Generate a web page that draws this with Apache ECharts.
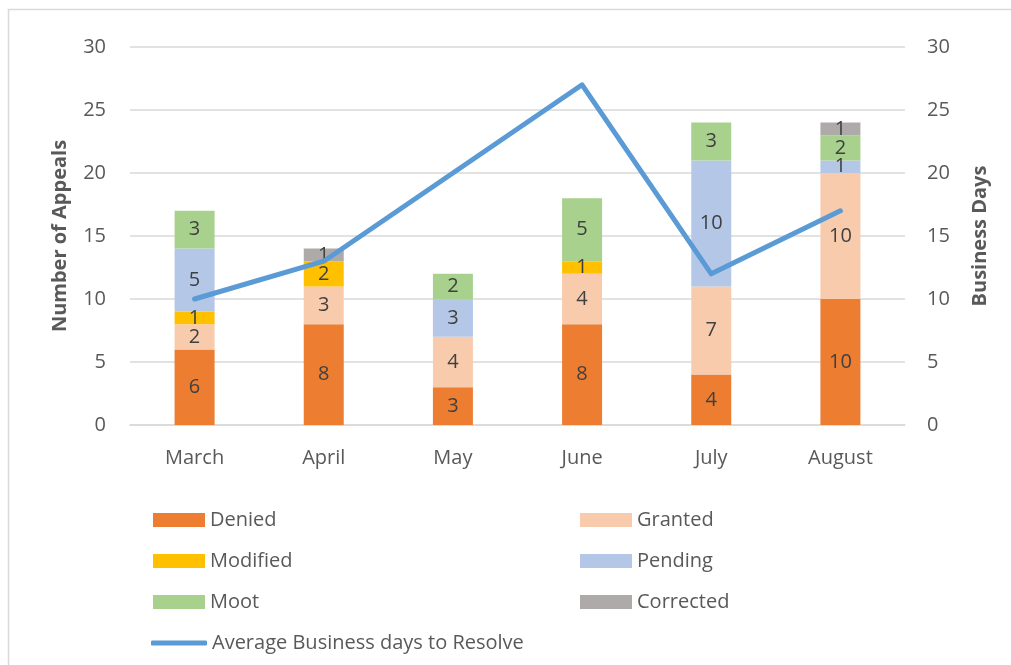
<!DOCTYPE html>
<html>
<head>
<meta charset="utf-8">
<script src="https://cdn.jsdelivr.net/npm/echarts@6/dist/echarts.min.js"></script>
<style>
html,body{margin:0;padding:0;background:#fff;}
#main{width:1011px;height:665px;}
</style>
</head>
<body>
<div id="main"></div>
<script>
const categories = ['March', 'April', 'May', 'June', 'July', 'August'];
const denied    = [6, 8, 3, 8, 4, 10];
const granted   = [2, 3, 4, 4, 7, 10];
const modified  = [1, 2, 0, 1, 0, 0];
const pending   = [5, 0, 3, 0, 10, 1];
const moot      = [3, 0, 2, 5, 3, 2];
const corrected = [0, 1, 0, 0, 0, 1];
const avgDays   = [10, 13, 20, 27, 12, 17];
const yTicks = [0, 5, 10, 15, 20, 25, 30];

const FONT = '"Open Sans", "Noto Sans", sans-serif';
const TXT = '#595959';

const barDefs = [
  ['Denied', denied, '#ed7d31'],
  ['Granted', granted, '#f8cbad'],
  ['Modified', modified, '#ffc000'],
  ['Pending', pending, '#b4c7e7'],
  ['Moot', moot, '#a9d18e'],
  ['Corrected', corrected, '#aeaaaa']
];

const series = barDefs.map(([name, data, color]) => ({
  name, type: 'bar', stack: 'total', data, barWidth: 40,
  itemStyle: { color },
  label: {
    show: true, position: 'inside', color: '#404040',
    fontFamily: FONT, fontSize: 20,
    formatter: p => (p.value ? String(p.value) : '')
  },
  emphasis: { disabled: true }
}));
series.push({
  name: 'Average Business days to Resolve', type: 'line', yAxisIndex: 1,
  data: avgDays, showSymbol: false, symbol: 'none',
  lineStyle: { color: '#5b9bd5', width: 5, cap: 'round', join: 'round' },
  itemStyle: { color: '#5b9bd5' },
  z: 5
});

const legendPos = [
  ['Denied', 153, 510], ['Granted', 580, 510],
  ['Modified', 153, 551], ['Pending', 580, 551],
  ['Moot', 153, 592], ['Corrected', 580, 592]
];
const legends = legendPos.map(([name, l, t]) => ({
  data: [name], left: l, top: t, itemWidth: 52, itemHeight: 14,
  icon: 'rect', selectedMode: false, padding: 0,
  textStyle: { fontFamily: FONT, fontSize: 20, color: TXT },
  itemGap: 0
}));
legends.push({
  data: [{ name: 'Average Business days to Resolve', icon: 'roundRect' }],
  left: 151, top: 633, itemWidth: 56, itemHeight: 5, selectedMode: false, padding: 0,
  textStyle: { fontFamily: FONT, fontSize: 20, color: TXT }
});

const yAxisBase = {
  type: 'value', min: yTicks[0], max: yTicks[yTicks.length - 1], interval: 5,
  axisLine: { show: false }, axisTick: { show: false },
  nameLocation: 'middle',
  nameTextStyle: { fontFamily: FONT, fontSize: 20, fontWeight: 'bold', color: TXT }
};

const chart = echarts.init(document.getElementById('main'), null, { renderer: 'canvas' });
chart.setOption({
  animation: false,
  backgroundColor: '#fff',
  textStyle: { fontFamily: FONT },
  graphic: [{
    type: 'rect', silent: true,
    shape: { x: 8.5, y: 9.5, width: 1100, height: 800 },
    style: { fill: 'none', stroke: '#d9d9d9', lineWidth: 1.5 }
  }],
  grid: { left: 130, right: 106, top: 47, bottom: 240, containLabel: false },
  legend: legends,
  xAxis: {
    type: 'category', data: categories,
    axisLine: { lineStyle: { color: '#d9d9d9', width: 1.5 } },
    axisTick: { show: false },
    axisLabel: { fontFamily: FONT, fontSize: 20, color: TXT, margin: 23 }
  },
  yAxis: [
    Object.assign({}, yAxisBase, {
      name: 'Number of Appeals', nameGap: 60,
      splitLine: { lineStyle: { color: '#d9d9d9', width: 1.5 } },
      axisLabel: { fontFamily: FONT, fontSize: 20, color: TXT, margin: 24 }
    }),
    Object.assign({}, yAxisBase, {
      name: 'Business Days', nameGap: 65, position: 'right',
      splitLine: { show: false },
      axisLabel: { fontFamily: FONT, fontSize: 20, color: TXT, margin: 22 }
    })
  ],
  series
});
</script>
</body>
</html>
